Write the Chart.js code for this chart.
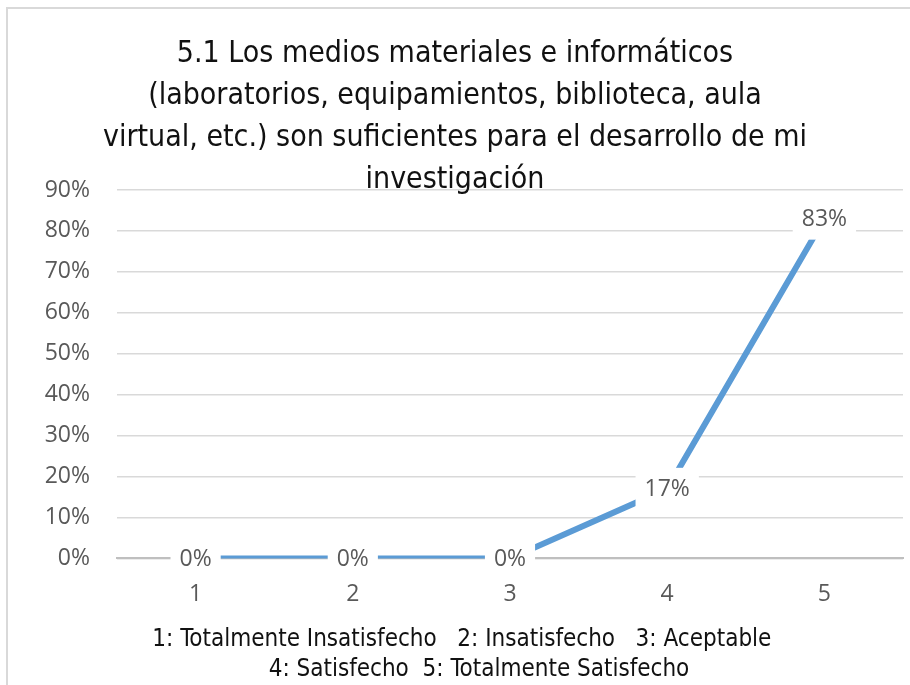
<!DOCTYPE html>
<html>
<head>
<meta charset="utf-8">
<script src="https://cdn.jsdelivr.net/npm/chart.js@4/dist/chart.umd.min.js"></script>
<style>
  html, body { margin: 0; padding: 0; background: #fff; }
  #wrap { width: 910px; height: 685px; }
</style>
</head>
<body>
<div id="wrap"><canvas id="myChart"></canvas></div>
<script>
const ctx = document.getElementById("myChart");

const categories = ["1", "2", "3", "4", "5"];
const shares = [0, 0, 0, 0.17, 0.83];
const titleLines = [
    "5.1 Los medios materiales e informáticos",
    "(laboratorios, equipamientos, biblioteca, aula",
    "virtual, etc.) son suficientes para el desarrollo de mi",
    "investigación",
];
const keyLines = [
    "  1: Totalmente Insatisfecho   2: Insatisfecho   3: Aceptable",
    "       4: Satisfecho  5: Totalmente Satisfecho",
];

const pct = (v) => Math.round(v * 100) + "%";
const tickFont = { family: "'Open Sans', 'Noto Sans', sans-serif", size: 23 };
const textFont = "'Liberation Sans Narrow', 'DejaVu Sans Condensed', sans-serif";

// outer frame of the original chart (only left/top edges are visible)
const frame = {
    id: "frame",
    beforeDraw(chart) {
        const c = chart.ctx;
        c.save();
        c.fillStyle = "#fff";
        c.fillRect(0, 0, chart.width, chart.height);
        c.strokeStyle = "#d9d9d9";
        c.lineWidth = 2;
        c.strokeRect(7, 8, chart.width + 20, chart.height + 20);
        c.restore();
    },
};

// value labels with a white box, centred on each point
const valueLabels = {
    id: "valueLabels",
    afterDatasetsDraw(chart) {
        const c = chart.ctx;
        const meta = chart.getDatasetMeta(0);
        c.save();
        c.font = "23px " + tickFont.family;
        c.textAlign = "center";
        c.textBaseline = "middle";
        meta.data.forEach((pt, i) => {
            const txt = pct(shares[i]);
            const w = c.measureText(txt).width + 18;
            const h = 42;
            c.fillStyle = "#fff";
            c.fillRect(pt.x - w / 2, pt.y - h / 2, w, h);
            c.fillStyle = "#595959";
            c.fillText(txt, pt.x, pt.y + 1);
        });
        c.restore();
    },
};

new Chart(ctx, {
    type: "line",
    data: {
        labels: categories,
        datasets: [
            {
                data: shares,
                borderColor: "#5b9bd5",
                borderWidth: 6,
                borderCapStyle: "round",
                pointRadius: 0,
                tension: 0,
            },
        ],
    },
    options: {
        responsive: true,
        maintainAspectRatio: false,
        animation: false,
        layout: { padding: { left: 7, right: 7, top: 0, bottom: 0 } },
        plugins: {
            legend: { display: false },
            tooltip: { enabled: false },
            title: {
                display: true,
                text: titleLines,
                color: "#111",
                font: { family: textFont, size: 30, weight: "normal", lineHeight: "42px" },
                padding: { top: 33, bottom: -11 },
            },
            subtitle: {
                display: true,
                position: "bottom",
                text: keyLines,
                color: "#111",
                font: { family: textFont, size: 24, weight: "normal", lineHeight: "30px" },
                padding: { top: -5, bottom: 0 },
            },
        },
        scales: {
            x: {
                offset: true,
                grid: { display: false, drawTicks: false },
                border: { color: "#bfbfbf", width: 2 },
                ticks: { color: "#595959", font: tickFont, padding: 22 },
            },
            y: {
                min: 0,
                max: 0.9,
                grid: { color: "#d9d9d9", lineWidth: 1.5, drawTicks: false },
                border: { display: false },
                afterFit: (s) => { s.width = 110; },
                ticks: {
                    stepSize: 0.1,
                    color: "#595959",
                    font: tickFont,
                    padding: 27,
                    callback: (v) => pct(v),
                },
            },
        },
    },
    plugins: [frame, valueLabels],
});
</script>
</body>
</html>
